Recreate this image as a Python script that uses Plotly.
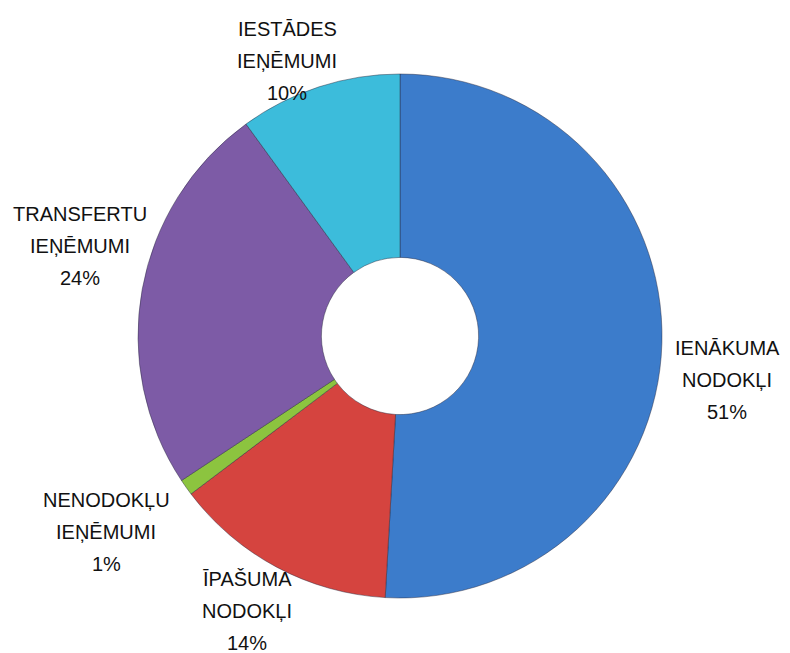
import plotly.graph_objects as go

categories = ["IENĀKUMA NODOKĻI", "ĪPAŠUMA NODOKĻI", "NENODOKĻU IEŅĒMUMI",
              "TRANSFERTU IEŅĒMUMI", "IESTĀDES IEŅĒMUMI"]
values = [50.9, 13.8, 1.0, 24.3, 10.0]
colors = ["#3C7CCB", "#D5443F", "#8CC43F", "#7D5BA6", "#3CBCDB"]

W, H = 790, 653
OFF = 8  # default body margin of the html page
cx, cy, r = 400 - OFF, 336 - OFF, 262

# label block placement (page pixels: x centre, y of middle line)
label_pos = [(727, 380), (247, 611), (106, 532), (80, 246), (287, 61)]
line_gap = 32

fig = go.Figure(go.Pie(
    labels=categories,
    values=values,
    sort=False,
    direction="clockwise",
    rotation=0,
    hole=0.3,
    marker=dict(colors=colors, line=dict(color="rgba(40,40,60,0.45)", width=1)),
    textinfo="none",
    hoverinfo="label+percent",
    showlegend=False,
    domain=dict(x=[(cx - r) / W, (cx + r) / W], y=[(H - cy - r) / H, (H - cy + r) / H]),
))

total = sum(values)
annotations = []
for cat, val, (px, py) in zip(categories, values, label_pos):
    lines = cat.split(" ") + [f"{round(val / total * 100)}%"]
    n = len(lines)
    for i, t in enumerate(lines):
        y_line = py + (i - (n - 1) / 2) * line_gap
        annotations.append(dict(
            x=(px - OFF) / W, y=1 - (y_line - OFF) / H,
            xref="paper", yref="paper",
            text=t, showarrow=False,
            xanchor="center", yanchor="middle",
            font=dict(family="Liberation Sans, Arial, sans-serif", size=20, color="#111111"),
        ))

fig.update_layout(
    width=W, height=H,
    margin=dict(l=0, r=0, t=0, b=0),
    paper_bgcolor="white",
    plot_bgcolor="white",
    annotations=annotations,
)

fig.write_html("out.html")
